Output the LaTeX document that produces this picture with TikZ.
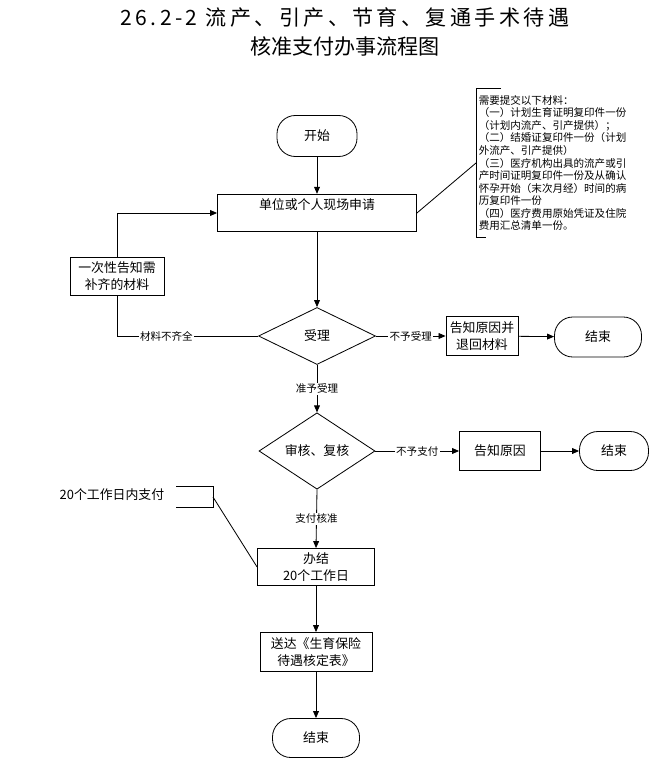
\documentclass[tikz,border=0pt]{standalone}
\usepackage{fontspec}
\setmainfont{Noto Sans CJK SC}
\newfontfamily\titlewide[LetterSpace=16]{Noto Sans CJK SC}
\usetikzlibrary{arrows.meta,shapes.geometric}

\begin{document}
\begin{tikzpicture}[x=0.03cm, y=-0.03cm, line width=0.7pt,
    >={Triangle[length=6pt,width=5pt]},
    box/.style={draw, align=center, inner sep=2pt, font=\fontsize{11}{14}\selectfont},
    term/.style={box, rounded corners=0.55cm},
    dec/.style={draw, diamond, inner sep=0pt, font=\fontsize{11}{14}\selectfont},
    lab/.style={fill=white, inner sep=1pt, font=\fontsize{9}{10}\selectfont}]
  \useasboundingbox (0,0) rectangle (652,761);

  % ----- title -----
  \node[align=center, font=\fontsize{18}{25}\selectfont] (title) at (345,32)
    {{\titlewide 26.2-2 流产、引产、节育、复通手术待遇}\\核准支付办事流程图};

  % ----- main column -----
  \node[term, minimum width=2.4cm, minimum height=1.23cm] (start) at (317,136) {开始};
  \node[box, minimum width=5.97cm, text height=10pt, text depth=16pt, inner ysep=3pt]
    (apply) at (317,213) {单位或个人现场申请};
  \node[dec, minimum width=3.51cm, minimum height=1.71cm] (accept) at (317,336) {受理};
  \node[dec, minimum width=3.48cm, minimum height=1.89cm] (review) at (317,451) {审核、复核};
  \node[box, minimum width=3.51cm, minimum height=1.11cm] (finish) at (316,567) {办结\\20个工作日};
  \node[box, minimum width=3.36cm, minimum height=1.17cm] (deliver) at (316,652) {送达《生育保险\\待遇核定表》};
  \node[term, minimum width=2.61cm, minimum height=1.17cm] (end3) at (316,738) {结束};

  % ----- side boxes -----
  \node[box, minimum width=2.82cm, minimum height=1.14cm] (supply) at (117,276) {一次性告知需\\补齐的材料};
  \node[box, minimum width=2.16cm, minimum height=1.17cm] (reject) at (482,336) {告知原因并\\退回材料};
  \node[term, minimum width=2.61cm, minimum height=1.2cm] (end1) at (598,337) {结束};
  \node[box, minimum width=2.43cm, minimum height=1.17cm] (refuse) at (500,451) {告知原因};
  \node[term, minimum width=2.07cm, minimum height=1.17cm] (end2) at (614,451) {结束};

  % ----- notes -----
  \node[anchor=west, align=left, text width=4.6cm, minimum height=4.44cm, inner xsep=2pt,
    font=\fontsize{9}{10.7}\selectfont] (note) at (476,163)
    {需要提交以下材料：\\
     （一）计划生育证明复印件一份\\
     （计划内流产、引产提供）；\\
     （二）结婚证复印件一份（计划\\
     外流产、引产提供）\\
     （三）医疗机构出具的流产或引\\
     产时间证明复印件一份及从确认\\
     怀孕开始（末次月经）时间的病\\
     历复印件一份\\
     （四）医疗费用原始凭证及住院\\
     费用汇总清单一份。};
  \draw ([xshift=0.75cm]note.north west) -- (note.north west) -- (note.south west)
    -- ([xshift=0.3cm]note.south west);

  \node[font=\fontsize{11}{14}\selectfont] (pay) at (112,495) {20个工作日内支付};
  \coordinate (brk) at (213,497);
  \draw (176,486) -- (213,486) -- (213,507) -- (176,507);

  % ----- connectors -----
  \draw[->] (start) -- (apply);
  \draw[->] (apply) -- (accept);
  \draw (accept.west) -- (supply.south |- accept.west)
    node[lab, pos=0.65] {材料不齐全} -- (supply.south);
  \draw[->] (supply.north) |- (apply.west);
  \draw[->] (accept.east) -- node[lab] {不予受理} (reject.west);
  \draw[->] (reject) -- (end1);
  \draw[->] (accept.south) -- node[lab] {准予受理} (review.north);
  \draw[->] (review.east) -- node[lab] {不予支付} (refuse.west);
  \draw[->] (refuse) -- (end2);
  \draw[->] (review.south) -- node[lab] {支付核准} (finish.north);
  \draw[->] (finish) -- (deliver);
  \draw[->] (deliver) -- (end3);
  \draw (apply.east) -- (note.west);
  \draw (brk) -- (finish.west);
\end{tikzpicture}
\end{document}
